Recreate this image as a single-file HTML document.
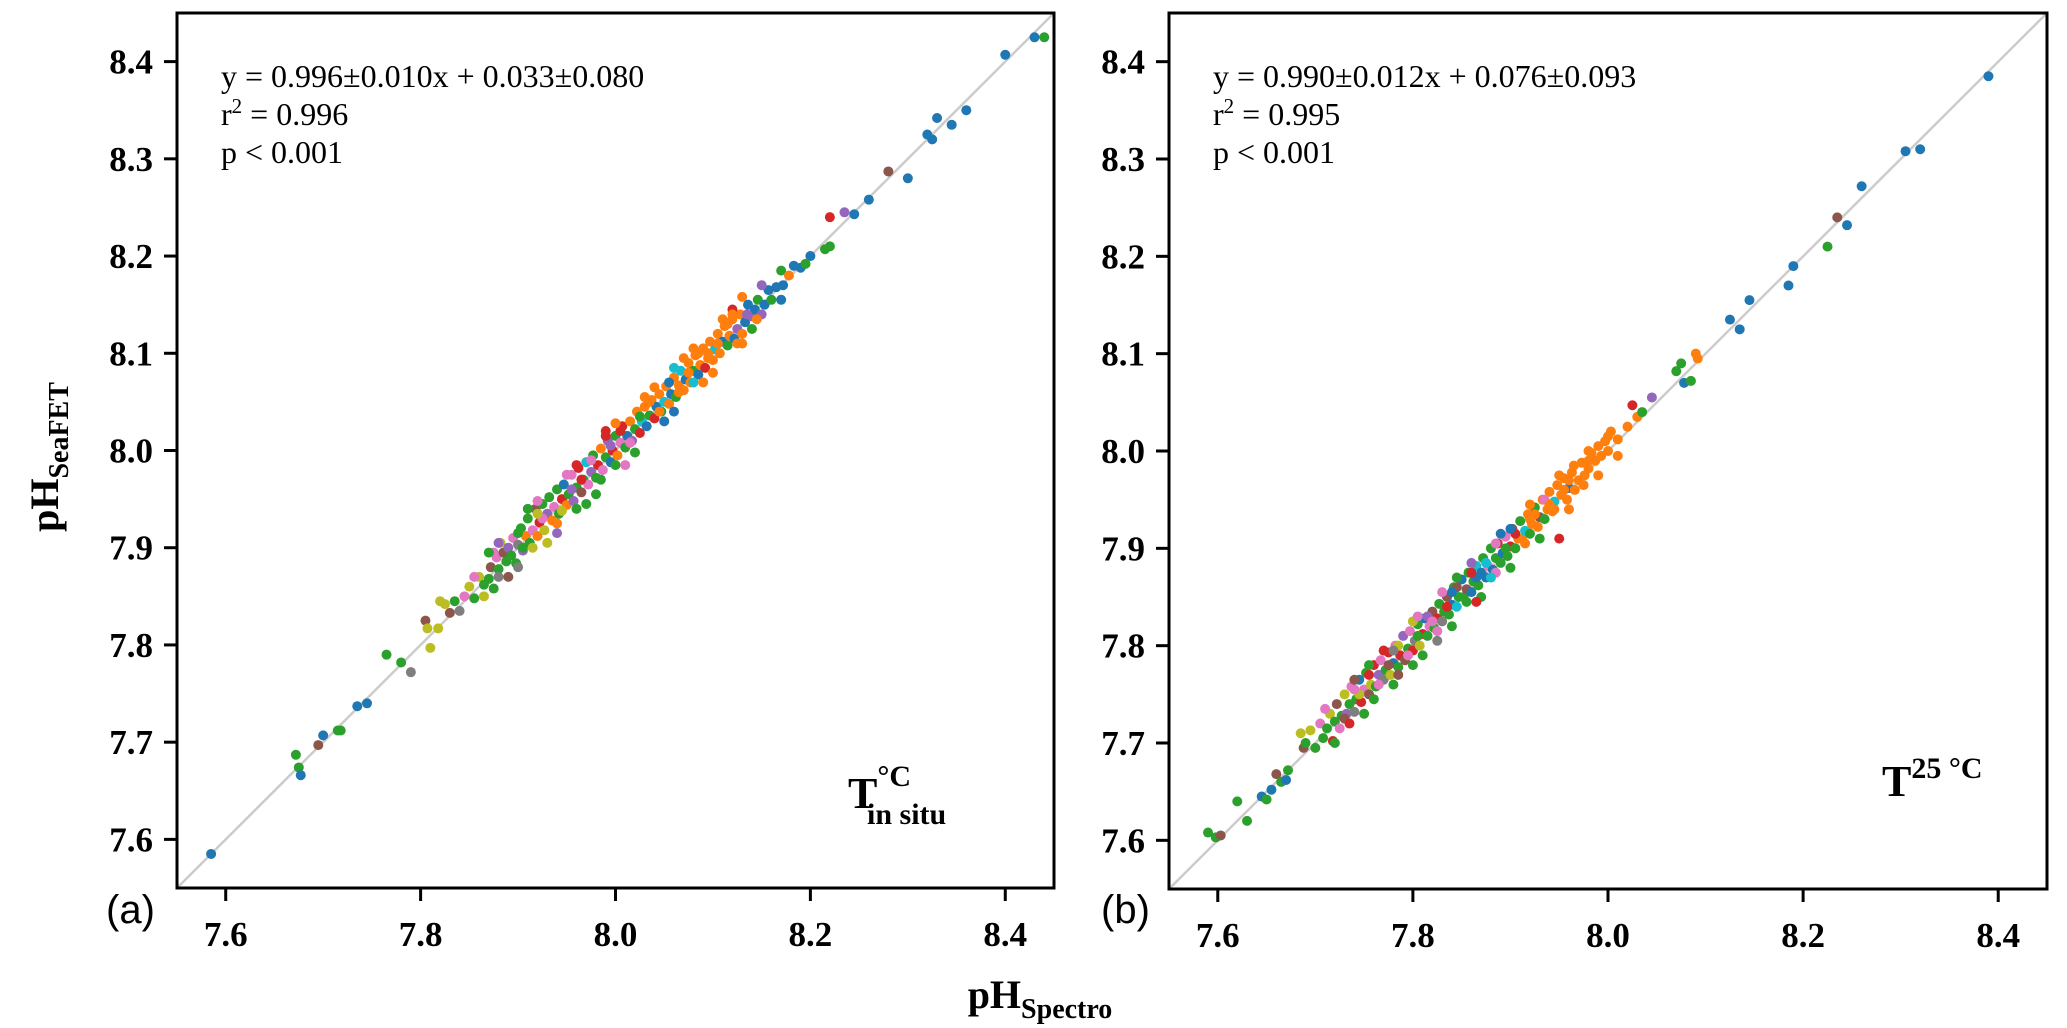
<!DOCTYPE html>
<html><head><meta charset="utf-8"><style>
html,body{margin:0;padding:0;background:#fff;}
svg{display:block;}
text{font-family:"Liberation Serif","DejaVu Serif",serif;}
.tick{font-weight:bold;font-size:35px;}
.ann{font-size:32px;}
</style></head><body>
<svg id="fig" width="2067" height="1028" viewBox="0 0 2067 1028">
<rect width="2067" height="1028" fill="#fff"/>
<g id="pa"></g>
<g id="pb"></g>
<text x="106" y="923" font-size="40" style="font-family:'Liberation Sans',sans-serif">(a)</text>
<text x="1101" y="923" font-size="40" style="font-family:'Liberation Sans',sans-serif">(b)</text>
<text x="1040" y="1008" text-anchor="middle" font-weight="bold" font-size="40">pH<tspan font-size="28" dy="10">Spectro</tspan></text>
<text transform="translate(58,457) rotate(-90)" text-anchor="middle" font-weight="bold" font-size="40">pH<tspan font-size="28" dy="10">SeaFET</tspan></text>
</svg>
<script>
const ticks=[7.6,7.7,7.8,7.9,8.0,8.1,8.2,8.3,8.4];
const xTicks=[7.6,7.8,8.0,8.2,8.4];
const tickLabelsY=["7.6","7.7","7.8","7.9","8.0","8.1","8.2","8.3","8.4"];
const tickLabelsX=["7.6","7.8","8.0","8.2","8.4"];
const colors=["#1f77b4","#ff7f0e","#2ca02c","#d62728","#9467bd","#8c564b","#e377c2","#7f7f7f","#bcbd22","#17becf"];
const eqA=["y = 0.996±0.010x + 0.033±0.080","0.996","p < 0.001"];
const eqB=["y = 0.990±0.012x + 0.076±0.093","0.995","p < 0.001"];
const ptsA=[
7.585,7.585,0, 7.672,7.687,2, 7.675,7.674,2, 7.677,7.666,0, 7.695,7.697,5, 7.70,7.707,0, 7.715,7.712,2, 7.718,7.712,2, 7.735,7.737,0, 7.745,7.740,0, 7.765,7.790,2, 7.78,7.782,2, 7.79,7.772,7, 7.805,7.825,5, 7.807,7.817,8, 7.818,7.817,8, 7.81,7.797,8, 7.82,7.845,8,
8.44,8.425,2, 8.43,8.425,0, 8.40,8.407,0, 8.36,8.35,0, 8.345,8.335,0, 8.33,8.342,0, 8.325,8.32,0, 8.32,8.325,0, 8.30,8.28,0, 8.28,8.287,5, 8.26,8.258,0, 8.245,8.243,0, 8.235,8.245,4, 8.22,8.24,3, 8.215,8.207,2, 8.22,8.21,2, 8.2,8.2,0,
7.825,7.842,8, 7.83,7.833,5, 7.835,7.845,2, 7.84,7.835,7, 7.845,7.85,6, 7.85,7.86,8, 7.855,7.848,2, 7.86,7.87,8, 7.865,7.862,2, 7.87,7.868,2, 7.872,7.88,5, 7.875,7.858,2, 7.878,7.89,6, 7.88,7.878,2, 7.882,7.905,8, 7.885,7.895,5, 7.888,7.886,2, 7.89,7.9,4, 7.893,7.892,2, 7.895,7.91,6, 7.898,7.884,2, 7.9,7.903,7, 7.903,7.92,2, 7.905,7.897,4, 7.908,7.912,1, 7.91,7.93,2, 7.912,7.905,2, 7.915,7.918,6, 7.918,7.94,5, 7.92,7.912,1, 7.922,7.926,3, 7.925,7.945,2, 7.927,7.918,8, 7.93,7.935,4, 7.932,7.952,2, 7.935,7.928,1, 7.937,7.942,6, 7.94,7.96,2, 7.942,7.935,2, 7.945,7.95,3, 7.947,7.965,0, 7.95,7.944,1, 7.952,7.955,2, 7.955,7.975,6, 7.957,7.948,4, 7.96,7.962,2, 7.962,7.982,3, 7.965,7.957,5, 7.967,7.97,2, 7.97,7.988,9, 7.972,7.965,6, 7.975,7.978,4, 7.977,7.995,2, 7.98,7.972,2, 7.982,7.985,3, 7.985,8.002,1, 7.987,7.98,6, 7.99,7.993,2, 7.992,8.01,4, 7.995,7.988,0, 7.997,8.0,3, 8.0,8.015,2, 8.002,7.995,1, 8.005,8.008,6, 8.007,8.025,3, 8.01,8.003,2, 8.012,8.015,0, 8.015,8.03,1, 8.017,8.01,4, 8.02,8.022,2, 8.022,8.04,1, 8.025,8.018,3, 8.027,8.03,9, 8.03,8.045,1, 8.032,8.025,0, 8.035,8.036,2, 8.037,8.052,1, 8.04,8.033,3, 8.042,8.045,0, 8.045,8.058,1, 8.047,8.04,2, 8.05,8.05,9, 8.052,8.066,1, 8.055,8.048,1, 8.057,8.058,0, 8.06,8.075,1, 8.062,8.055,2, 8.065,8.067,1, 8.067,8.082,9, 8.07,8.062,1, 8.072,8.073,0, 8.075,8.09,1, 8.077,8.07,1, 8.08,8.082,2, 8.082,8.098,1, 8.085,8.078,0, 8.087,8.088,1, 8.09,8.105,1, 8.092,8.085,3, 8.095,8.095,1, 8.097,8.112,1, 8.1,8.093,1, 8.102,8.104,9, 8.105,8.12,1, 8.107,8.1,1, 8.11,8.112,0, 8.112,8.128,1, 8.115,8.108,2, 8.117,8.118,1, 8.12,8.135,1, 8.122,8.115,0, 8.125,8.125,4, 8.128,8.14,1, 8.13,8.12,1, 8.133,8.132,0, 8.136,8.15,0, 8.14,8.138,4, 8.143,8.145,0, 8.146,8.155,2, 8.15,8.14,4, 8.153,8.15,0, 8.157,8.165,0, 8.16,8.155,2, 8.165,8.168,0, 8.17,8.185,2, 8.172,8.17,0, 8.178,8.18,1, 8.183,8.19,0, 8.19,8.188,0, 8.195,8.192,2,
7.905,7.9,2, 7.915,7.9,8, 7.925,7.93,6, 7.945,7.938,8, 7.955,7.96,4, 7.965,7.97,3, 7.975,7.99,6, 7.985,7.97,2, 7.995,8.005,4, 8.005,8.02,3, 8.015,8.008,6, 8.025,8.035,2, 8.035,8.05,1, 8.045,8.04,1, 8.055,8.07,0, 8.065,8.06,1, 8.075,8.08,1, 8.085,8.1,1, 8.095,8.1,1, 8.105,8.11,1, 8.115,8.13,1, 8.125,8.11,1, 8.135,8.14,4, 8.145,8.135,1, 8.06,8.085,9, 8.08,8.07,9, 8.13,8.158,1, 8.12,8.145,3, 7.96,7.94,2, 7.94,7.925,1, 7.92,7.935,8, 7.9,7.915,2, 7.88,7.87,7, 7.875,7.895,6, 7.99,8.02,3, 8.0,7.985,2
];
const extraA=[
7.87,7.895,2, 7.89,7.87,5, 7.91,7.94,2, 7.93,7.905,8, 7.95,7.975,6, 7.97,7.945,2, 7.99,8.015,3, 8.01,7.985,6, 8.03,8.055,1, 8.05,8.03,0, 8.07,8.095,1, 8.09,8.07,1, 8.11,8.135,1, 8.13,8.11,1, 8.15,8.17,4, 8.17,8.155,0, 7.88,7.905,4, 7.9,7.88,7, 7.92,7.948,6, 7.94,7.915,4, 7.96,7.985,3, 7.98,7.955,2, 8.0,8.028,1, 8.02,7.998,2, 8.04,8.065,1, 8.06,8.04,0, 8.08,8.105,1, 8.1,8.08,1, 8.12,8.14,1, 8.14,8.125,2, 7.855,7.87,6, 7.865,7.85,8
];
const ptsB=[
7.59,7.608,2, 7.598,7.603,2, 7.603,7.605,5, 7.62,7.64,2, 7.63,7.62,2, 7.645,7.645,0, 7.65,7.642,2, 7.655,7.652,0, 7.66,7.668,5, 7.665,7.66,2, 7.67,7.662,0, 7.672,7.672,2, 7.685,7.71,8, 7.688,7.695,5, 7.69,7.7,2, 7.695,7.713,8, 7.7,7.695,2, 7.705,7.72,6, 7.708,7.705,2,
7.712,7.715,2, 7.715,7.73,8, 7.718,7.702,3, 7.72,7.722,2, 7.722,7.74,5, 7.725,7.715,6, 7.727,7.728,2, 7.73,7.75,8, 7.732,7.73,4, 7.735,7.74,2, 7.737,7.758,6, 7.74,7.732,7, 7.742,7.745,2, 7.745,7.765,0, 7.747,7.742,3, 7.75,7.755,6, 7.752,7.772,2, 7.755,7.75,5, 7.757,7.76,8, 7.76,7.78,3, 7.762,7.758,2, 7.765,7.77,4, 7.767,7.785,6, 7.77,7.765,7, 7.772,7.775,2, 7.775,7.793,3, 7.777,7.77,8, 7.78,7.782,0, 7.782,7.8,6, 7.785,7.778,2, 7.787,7.79,3, 7.79,7.81,4, 7.792,7.785,5, 7.795,7.797,2, 7.797,7.815,6, 7.8,7.795,3, 7.802,7.805,7, 7.805,7.822,2, 7.807,7.8,8, 7.81,7.812,3, 7.812,7.828,0, 7.815,7.81,2, 7.817,7.82,6, 7.82,7.835,5, 7.822,7.818,2, 7.825,7.828,3, 7.827,7.843,2, 7.83,7.825,7, 7.832,7.835,2, 7.835,7.85,5, 7.837,7.832,2, 7.84,7.842,0, 7.842,7.86,2, 7.845,7.84,9, 7.847,7.85,2, 7.85,7.868,0, 7.852,7.85,2, 7.855,7.858,5, 7.857,7.875,2, 7.86,7.855,0, 7.862,7.866,2, 7.865,7.882,9, 7.867,7.862,2, 7.87,7.875,0, 7.872,7.89,2, 7.875,7.87,0, 7.877,7.882,6, 7.88,7.9,2, 7.882,7.878,0, 7.885,7.89,2, 7.887,7.905,3, 7.89,7.885,2, 7.892,7.895,0, 7.895,7.912,6, 7.897,7.892,2, 7.9,7.902,3, 7.902,7.92,5, 7.905,7.9,2, 7.908,7.91,1, 7.91,7.928,2, 7.912,7.91,1, 7.915,7.918,9, 7.918,7.935,1, 7.92,7.915,2, 7.922,7.925,1, 7.925,7.942,2, 7.928,7.922,1, 7.93,7.932,5, 7.933,7.95,1, 7.935,7.93,2, 7.938,7.94,1, 7.94,7.958,1, 7.943,7.938,1, 7.945,7.948,9, 7.948,7.965,1, 7.95,7.91,3, 7.952,7.955,1, 7.955,7.972,1, 7.958,7.95,1, 7.96,7.962,0, 7.963,7.978,1, 7.966,7.96,1, 7.97,7.97,1, 7.973,7.988,1, 7.976,7.975,1, 7.98,7.982,1, 7.983,7.998,1, 7.987,7.99,1, 7.99,8.005,1, 7.993,7.995,1, 7.997,8.01,1, 8.0,8.0,1, 8.003,8.02,1, 8.01,8.012,1, 8.02,8.025,1, 8.025,8.047,3, 8.03,8.035,1, 8.035,8.04,2, 8.045,8.055,4, 8.07,8.082,2, 8.075,8.09,2, 8.078,8.07,0, 8.085,8.072,2, 8.09,8.1,1, 8.092,8.095,1,
7.745,7.75,8, 7.755,7.77,3, 7.765,7.76,6, 7.775,7.78,5, 7.785,7.8,8, 7.795,7.79,6, 7.805,7.81,2, 7.815,7.83,4, 7.825,7.815,6, 7.835,7.84,3, 7.845,7.86,5, 7.855,7.845,2, 7.865,7.87,0, 7.875,7.885,9, 7.885,7.875,6, 7.895,7.9,2, 7.905,7.915,3, 7.915,7.905,1, 7.925,7.935,1, 7.935,7.95,6, 7.945,7.94,1, 7.955,7.96,1, 7.965,7.985,1, 7.975,7.965,1, 7.73,7.725,5, 7.74,7.755,6, 7.76,7.745,2, 7.78,7.795,7, 7.8,7.78,2, 7.82,7.825,6, 7.84,7.855,0, 7.86,7.875,3, 7.88,7.87,9, 7.9,7.92,0, 7.92,7.93,1, 7.94,7.945,1, 7.96,7.97,1, 7.98,7.99,1,
8.135,8.125,0, 8.125,8.135,0, 8.145,8.155,0, 8.185,8.17,0, 8.19,8.19,0, 8.225,8.21,2, 8.235,8.24,5, 8.245,8.232,0, 8.26,8.272,0, 8.305,8.308,0, 8.32,8.31,0, 8.39,8.385,0
];
const extraB=[
7.71,7.735,6, 7.72,7.7,2, 7.74,7.765,5, 7.75,7.73,2, 7.77,7.795,3, 7.78,7.76,2, 7.8,7.825,8, 7.81,7.79,2, 7.83,7.855,6, 7.84,7.82,2, 7.86,7.885,4, 7.87,7.85,2, 7.89,7.915,0, 7.9,7.88,2, 7.92,7.945,1, 7.93,7.91,2, 7.95,7.975,1, 7.96,7.94,1, 7.98,8.0,1, 7.99,7.975,1, 7.735,7.72,3, 7.755,7.78,2, 7.785,7.77,5, 7.805,7.83,6, 7.825,7.805,7, 7.845,7.87,2, 7.865,7.845,3, 7.885,7.905,6, 8.0,8.015,1, 8.01,7.995,1
];
const NS="http://www.w3.org/2000/svg";
const LO=7.55, HI=8.45;
function mk(tag,attrs,parent){const e=document.createElementNS(NS,tag);for(const k in attrs)e.setAttribute(k,attrs[k]);parent.appendChild(e);return e;}
function panel(g,L,R,T,B,pts,eq){
  const sx=v=>L+(v-LO)/(HI-LO)*(R-L);
  const sy=v=>B-(v-LO)/(HI-LO)*(B-T);
  const line=mk('line',{x1:sx(LO),y1:sy(LO),x2:sx(HI),y2:sy(HI),stroke:'#cccccc','stroke-width':2.5},g);
  
  
  for(let i=0;i<pts.length;i+=3){
    const c=mk('circle',{cx:sx(pts[i]),cy:sy(pts[i+1]),r:5,fill:colors[pts[i+2]]},g);
    
    
  }
  const fr=mk('rect',{x:L,y:T,width:R-L,height:B-T,fill:'none',stroke:'#000','stroke-width':3},g);
  
  
  ticks.forEach((v,i)=>{
    const y=sy(v);
    mk('line',{x1:L-13,y1:y,x2:L,y2:y,stroke:'#000','stroke-width':3},g);
    const t=mk('text',{x:L-24,y:y+12,'text-anchor':'end',class:'tick'},g);
    t.textContent=tickLabelsY[i];
    
    
  });
  xTicks.forEach((v,i)=>{
    const x=sx(v);
    mk('line',{x1:x,y1:B,x2:x,y2:B+13,stroke:'#000','stroke-width':3},g);
    const t=mk('text',{x:x,y:B+58,'text-anchor':'middle',class:'tick'},g);
    t.textContent=tickLabelsX[i];
    
    
  });
  const t1=mk('text',{x:L+44,y:T+74,class:'ann'},g);t1.textContent=eq[0];
  
  
  const t2=mk('text',{x:L+44,y:T+112,class:'ann'},g);
  t2.innerHTML='r<tspan font-size="21" dy="-12">2</tspan><tspan dy="12"> = '+eq[1]+'</tspan>';
  
  
  const t3=mk('text',{x:L+44,y:T+150,class:'ann'},g);t3.textContent=eq[2];
  
  
}
panel(document.getElementById('pa'),177,1054,13,888,ptsA.concat(extraA),eqA);
panel(document.getElementById('pb'),1169,2047,13,889,ptsB.concat(extraB),eqB);
const ga=document.getElementById('pa'), gb=document.getElementById('pb');
const la=mk('text',{x:848,y:808,'font-weight':'bold','font-size':44},ga);
la.innerHTML='T<tspan font-size="30" dy="-22">°C</tspan><tspan font-size="30" dx="-44" dy="38">in situ</tspan>';


const lb=mk('text',{x:1882,y:796,'font-weight':'bold','font-size':44},gb);
lb.innerHTML='T<tspan font-size="30" dy="-18">25 °C</tspan>';


</script>
</body></html>
